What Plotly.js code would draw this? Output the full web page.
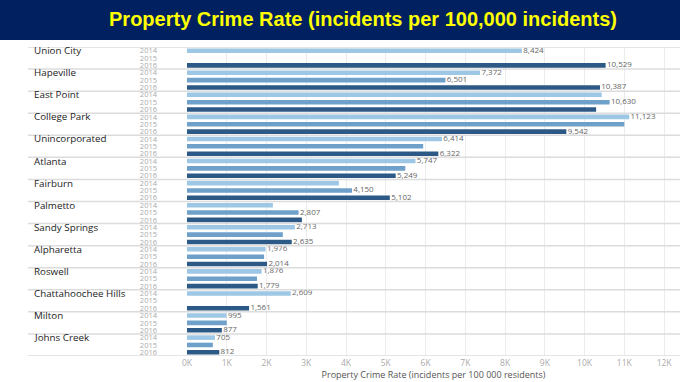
<!DOCTYPE html>
<html>
<head>
<meta charset="utf-8">
<script src="https://cdn.plot.ly/plotly-3.0.1.min.js"></script>
<style>html,body{margin:0;padding:0;background:#fff;}#chart{width:680px;height:382px;}</style>
</head>
<body>
<div id="chart"></div>
<script>
const cities = ["Union City","Hapeville","East Point","College Park","Unincorporated","Atlanta","Fairburn","Palmetto","Sandy Springs","Alpharetta","Roswell","Chattahoochee Hills","Milton","Johns Creek"];
const years = ["2014","2015","2016"];
const v2014 = [8424, 7372, 10430, 11123, 6414, 5747, 3820, 2160, 2713, 1976, 1876, 2609, 995, 705];
const v2015 = [null, 6501, 10630, 11000, 5940, 5490, 4150, 2807, 2410, 1940, 1760, null, 1000, 650];
const v2016 = [10529, 10387, 10290, 9542, 6322, 5249, 5102, 2890, 2635, 2014, 1779, 1561, 877, 812];
const show2014 = [1,1,0,1,1,1,0,0,1,1,1,1,1,1];
const show2015 = [0,1,1,0,0,0,1,1,0,0,0,0,0,0];
const show2016 = [1,1,0,1,1,1,1,0,1,1,1,1,1,1];
const colors = ["#9DC7E5","#6FA0CA","#2C5985"];
const xTicks = [0,1000,2000,3000,4000,5000,6000,7000,8000,9000,10000,11000,12000];
const xTickText = ["0K","1K","2K","3K","4K","5K","6K","7K","8K","9K","10K","11K","12K"];
const title = "Property Crime Rate (incidents per 100,000 incidents)";
const xTitle = "Property Crime Rate (incidents per 100 000 residents)";

const W = 680, H = 382, ML = 187, MR = 0, MT = 47, MB = 26;
const PW = W - ML - MR, PH = H - MT - MB;
const FONT = "Open Sans, Lato, sans-serif";

const vals = [v2014, v2015, v2016];
const shows = [show2014, show2015, show2016];
const keys = [];
cities.forEach(c => years.forEach(y => keys.push(c + "|" + y)));
const yearText = keys.map(k => k.split("|")[1]);

const traces = [];
years.forEach((yr, j) => {
  traces.push({
    type: "bar",
    orientation: "h",
    name: yr,
    y: cities.map(c => c + "|" + yr),
    x: vals[j],
    width: 0.62,
    marker: {color: colors[j]},
    hoverinfo: "x+y",
    showlegend: false
  });
});
years.forEach((yr, j) => {
  traces.push({
    type: "scatter",
    mode: "text",
    y: cities.map(c => c + "|" + yr),
    x: vals[j],
    text: vals[j].map((v, i) => (shows[j][i] && v != null) ? "\u2009" + v.toLocaleString("en-US") : ""),
    textposition: "middle right",
    textfont: {family: FONT, size: 8, color: "#666"},
    cliponaxis: false,
    hoverinfo: "skip",
    showlegend: false
  });
});

const shapes = [];
// banner
shapes.push({type: "rect", xref: "paper", yref: "paper", x0: -ML / PW, x1: 1 + MR / PW, y0: 1 + (MT - 40) / PH, y1: 1 + MT / PH, fillcolor: "#002060", line: {width: 0}, layer: "below"});
// group separators
for (let k = 0; k <= cities.length; k++) {
  shapes.push({type: "line", xref: "paper", yref: "y", x0: -(ML - 28) / PW, x1: 1, y0: 3 * k - 0.5, y1: 3 * k - 0.5, line: {color: "#dcdcdc", width: 1.5}});
}

const annotations = cities.map(c => ({
  xref: "paper", yref: "y", x: -(ML - 32) / PW, y: c + "|2014",
  xanchor: "left", yanchor: "middle", showarrow: false,
  text: c, font: {family: FONT, size: 9.8, color: "#222"}
}));

const layout = {
  width: W, height: H,
  margin: {l: ML, r: MR, t: MT, b: MB, pad: 0},
  paper_bgcolor: "#fff", plot_bgcolor: "#fff",
  barmode: "overlay",
  title: {text: title, font: {family: "Liberation Sans, Arial, sans-serif", size: 20, color: "#FFFF00", weight: "bold"}, xref: "container", x: 363 / W, xanchor: "center", yref: "container", y: 1 - 19 / H, yanchor: "middle"},
  xaxis: {
    range: [0, 12400], tickvals: xTicks, ticktext: xTickText,
    showgrid: true, gridcolor: "#ececec", gridwidth: 1, zeroline: false, showline: false,
    tickfont: {family: FONT, size: 8.5, color: "#aaa"}, ticks: "", fixedrange: true,
    title: {text: xTitle, font: {family: FONT, size: 9, color: "#555"}, standoff: 5}
  },
  yaxis: {
    type: "category", categoryorder: "array", categoryarray: keys,
    range: [keys.length - 0.5, -0.5],
    tickvals: keys, ticktext: yearText, ticks: "", ticklabelstandoff: 29,
    tickfont: {family: FONT, size: 7.5, color: "#aaa"},
    showgrid: false, zeroline: false, showline: false, fixedrange: true
  },
  shapes: shapes,
  annotations: annotations
};

Plotly.newPlot("chart", traces, layout, {displayModeBar: false, staticPlot: true});
</script>
</body>
</html>
